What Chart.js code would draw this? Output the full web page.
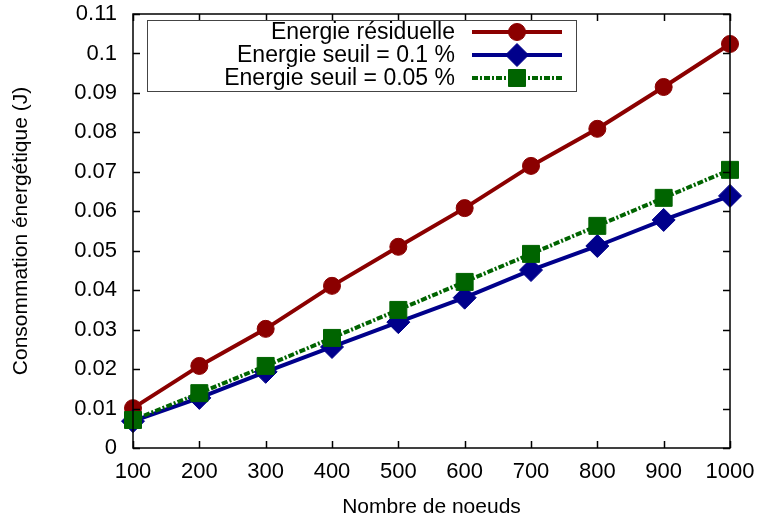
<!DOCTYPE html>
<html>
<head>
<meta charset="utf-8">
<script src="https://cdn.jsdelivr.net/npm/chart.js@4/dist/chart.umd.min.js"></script>
<style>
html,body{margin:0;padding:0;background:#fff;}
#wrap{width:760px;height:520px;position:relative;}
</style>
</head>
<body>
<div id="wrap"><canvas id="c" width="760" height="520"></canvas></div>
<script>
const nodes = [100, 200, 300, 400, 500, 600, 700, 800, 900, 1000];
const energieResiduelle = [0.0101, 0.0208, 0.0302, 0.0411, 0.0510, 0.0608, 0.0715, 0.0809, 0.0915, 0.1024];
const seuil01 = [0.0068, 0.0127, 0.0193, 0.0256, 0.0319, 0.0381, 0.0451, 0.0512, 0.0578, 0.0639];
const seuil005 = [0.0071, 0.0139, 0.0208, 0.0279, 0.0350, 0.0421, 0.0492, 0.0563, 0.0634, 0.0705];
const seriesLabels = ['Energie résiduelle', 'Energie seuil = 0.1 %', 'Energie seuil = 0.05 %'];
const xTitle = 'Nombre de noeuds';
const yTitle = 'Consommation énergétique (J)';

const FONT = '"Liberation Sans", Arial, Helvetica, sans-serif';
const RED = '#8b0000', BLUE = '#00008b', GREEN = '#006400';

function pts(ys){ return nodes.map((x,i)=>({x:x, y:ys[i]})); }

const frameTicks = {
  id: 'frameTicks',
  afterDatasetsDraw(chart){
    const {ctx, chartArea:a, scales:{x, y}} = chart;
    ctx.save();
    ctx.strokeStyle = '#000';
    ctx.lineWidth = 1.5;
    ctx.beginPath();
    const L = 7;
    x.ticks.forEach(t=>{
      const px = Math.round(x.getPixelForValue(t.value))+0.5;
      ctx.moveTo(px, a.bottom); ctx.lineTo(px, a.bottom - L);
      ctx.moveTo(px, a.top); ctx.lineTo(px, a.top + L);
    });
    y.ticks.forEach(t=>{
      const py = Math.round(y.getPixelForValue(t.value))+0.5;
      ctx.moveTo(a.left, py); ctx.lineTo(a.left + L, py);
      ctx.moveTo(a.right, py); ctx.lineTo(a.right - L, py);
    });
    ctx.stroke();
    ctx.strokeRect(a.left, a.top, a.right - a.left, a.bottom - a.top);
    ctx.restore();
  },
  afterDraw(chart){
    const {ctx, chartArea:a} = chart;
    ctx.save();
    ctx.fillStyle = '#000';
    ctx.font = '21px ' + FONT;
    ctx.textAlign = 'center';
    ctx.textBaseline = 'middle';
    ctx.fillText(xTitle, (a.left + a.right)/2, 507);
    ctx.translate(21, (a.top + a.bottom)/2);
    ctx.rotate(-Math.PI/2);
    ctx.fillText(yTitle, 0, 0);
    ctx.restore();

    // legend
    ctx.save();
    const bx = 147, by = 20, bw = 429, bh = 71;
    ctx.fillStyle = '#fff';
    ctx.fillRect(bx, by, bw, bh);
    ctx.strokeStyle = '#444';
    ctx.lineWidth = 1;
    ctx.strokeRect(bx + 0.5, by + 0.5, bw, bh);
    const rows = [32, 55, 78];
    chart.data.datasets.forEach((ds, i)=>{
      const yy = rows[i];
      ctx.fillStyle = '#000';
      ctx.font = '23px ' + FONT;
      ctx.textAlign = 'right';
      ctx.textBaseline = 'middle';
      ctx.fillText(ds.label, 455, yy + 1);
      ctx.strokeStyle = ds.borderColor;
      ctx.lineWidth = ds.borderWidth;
      ctx.setLineDash(ds.borderDash || []);
      ctx.beginPath();
      ctx.moveTo(472, yy); ctx.lineTo(562, yy);
      ctx.stroke();
      ctx.setLineDash([]);
      ctx.lineWidth = 1;
      ctx.fillStyle = ds.pointBackgroundColor;
      ctx.strokeStyle = ds.pointBorderColor;
      Chart.helpers.drawPoint(ctx, {pointStyle: ds.pointStyle, radius: ds.pointRadius, borderWidth: 1}, 517, yy);
    });
    ctx.restore();
  }
};

new Chart(document.getElementById('c'), {
  type: 'line',
  data: {
    datasets: [
      {label: seriesLabels[0], data: pts(energieResiduelle), borderColor: RED, backgroundColor: RED,
       pointBackgroundColor: RED, pointBorderColor: RED, borderWidth: 4, pointStyle: 'circle', pointRadius: 8.5, pointBorderWidth: 1, order: 3},
      {label: seriesLabels[1], data: pts(seuil01), borderColor: BLUE, backgroundColor: BLUE,
       pointBackgroundColor: BLUE, pointBorderColor: BLUE, borderWidth: 4, pointStyle: 'rectRot', pointRadius: 11.5, pointBorderWidth: 1, order: 2},
      {label: seriesLabels[2], data: pts(seuil005), borderColor: GREEN, backgroundColor: GREEN,
       pointBackgroundColor: GREEN, pointBorderColor: GREEN, borderWidth: 4, borderDash: [6, 2, 2, 2], pointStyle: 'rect', pointRadius: 12, pointBorderWidth: 1, order: 1}
    ]
  },
  options: {
    responsive: false,
    animation: false,
    devicePixelRatio: 1,
    clip: false,
    layout: {padding: {top: 0, right: 0, left: 0, bottom: 0}},
    plugins: {legend: {display: false}, tooltip: {enabled: false}},
    elements: {line: {tension: 0, fill: false}},
    scales: {
      x: {
        type: 'linear', min: 100, max: 1000,
        grid: {display: false, drawTicks: false},
        border: {display: false},
        ticks: {stepSize: 100, color: '#000', font: {family: FONT, size: 22}, padding: 11, maxRotation: 0,
          callback: v => String(v)},
        afterFit: s => { s.height = 72; s.paddingLeft = 0; s.paddingRight = 30; }
      },
      y: {
        type: 'linear', min: 0, max: 0.11,
        grid: {display: false, drawTicks: false},
        border: {display: false},
        ticks: {stepSize: 0.01, color: '#000', font: {family: FONT, size: 22}, padding: 16,
          callback: v => String(+v.toFixed(2))},
        afterFit: s => { s.width = 133; s.paddingTop = 14; s.paddingBottom = 0; }
      }
    }
  },
  plugins: [frameTicks]
});
</script>
</body>
</html>
